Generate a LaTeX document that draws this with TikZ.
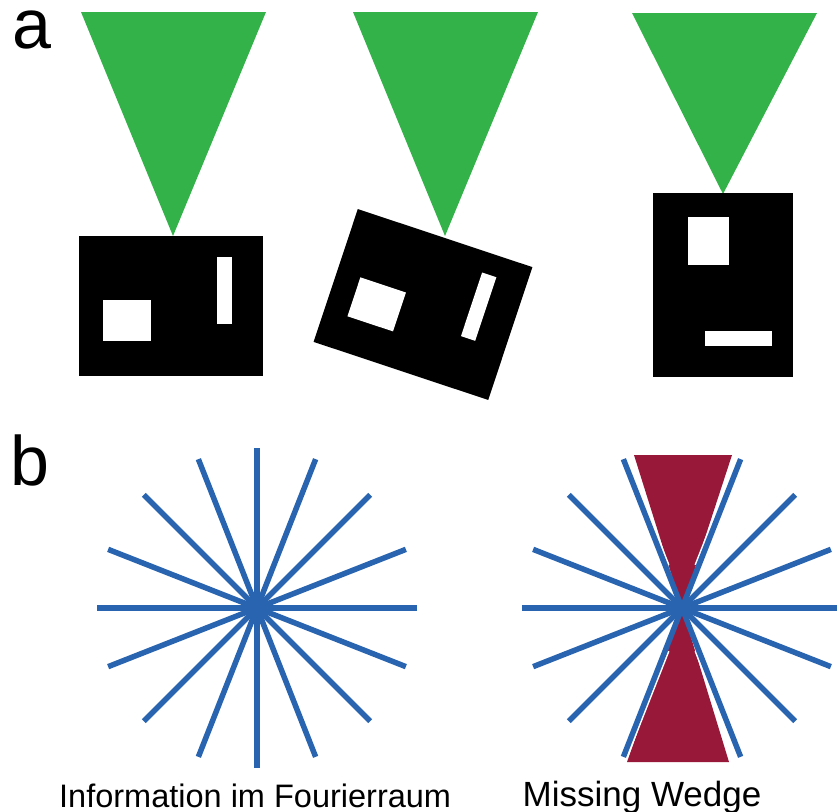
\documentclass[tikz,border=0pt]{standalone}
\usepackage{fontspec}
\setmainfont{Liberation Sans}
\definecolor{tipgreen}{RGB}{52,178,74}
\definecolor{rayblue}{RGB}{40,100,176}
\definecolor{wedgered}{RGB}{152,24,58}
\tikzset{
  tip/.style={fill=tipgreen, draw=none},
  sample/.style={fill=black, draw=none},
  hole/.style={fill=white, draw=none},
  ray/.style={draw=rayblue, line width=5.5pt, line cap=butt},
  halo/.style={draw=white, line width=8.5pt, line cap=butt},
  wedge/.style={fill=wedgered, draw=none},
  panel/.style={inner sep=0pt, anchor=base west, font=\fontsize{70}{70}\selectfont},
  caption/.style={inner sep=0pt, anchor=base west},
  specimen/.pic={
    \fill[sample] (-92,-70) rectangle (92,70);
    \fill[hole] (-68,-6) rectangle (-20,35);
    \fill[hole] (46,-49) rectangle (61,18);
  }
}
\begin{document}
\begin{tikzpicture}[x=1pt,y=-1pt]
\useasboundingbox (0,0) rectangle (837,811);
\clip (0,0) rectangle (837,811);

% panel labels
\node[panel] (la) at (12,48) {a};
\node[panel] (lb) at (10,485) {b};

% --- panel a: three tilt positions ---
\fill[tip] (81,12) -- (266,12) -- (173,236) -- cycle;
\pic at (171,306) {specimen};

\fill[tip] (353,12) -- (538,12) -- (445,236) -- cycle;
\pic[rotate=-18.4] at (423,304.5) {specimen};

\fill[tip] (632,13) -- (817,13) -- (723,194) -- cycle;
\pic[rotate=-90] at (722.5,285) {specimen};

% --- panel b: Fourier space ---
\coordinate (c1) at (257,608);
\foreach \a in {0,21.5,45,68.5,90,111.5,135,158.5}
  \draw[ray] (c1) ++(\a:160) -- ++(\a+180:320);

\coordinate (c2) at (682,608);
\fill[wedge] (634,455) -- (732,455) -- (c2) -- cycle;
\fill[wedge] (c2) -- (729,762) -- (627,762) -- cycle;
\foreach \a in {68.5,111.5,248.5,291.5}
  \draw[halo] (c2) ++(\a:45) -- ++(\a:115);
\foreach \a in {0,21.5,45,68.5,111.5,135,158.5}
  \draw[ray] (c2) ++(\a:160) -- ++(\a+180:320);

\node[caption, font=\fontsize{32.5}{32.5}\selectfont] (t1) at (59,807) {Information im Fourierraum};
\node[caption, font=\fontsize{35}{35}\selectfont] (t2) at (522.5,806) {Missing Wedge};
\end{tikzpicture}
\end{document}
